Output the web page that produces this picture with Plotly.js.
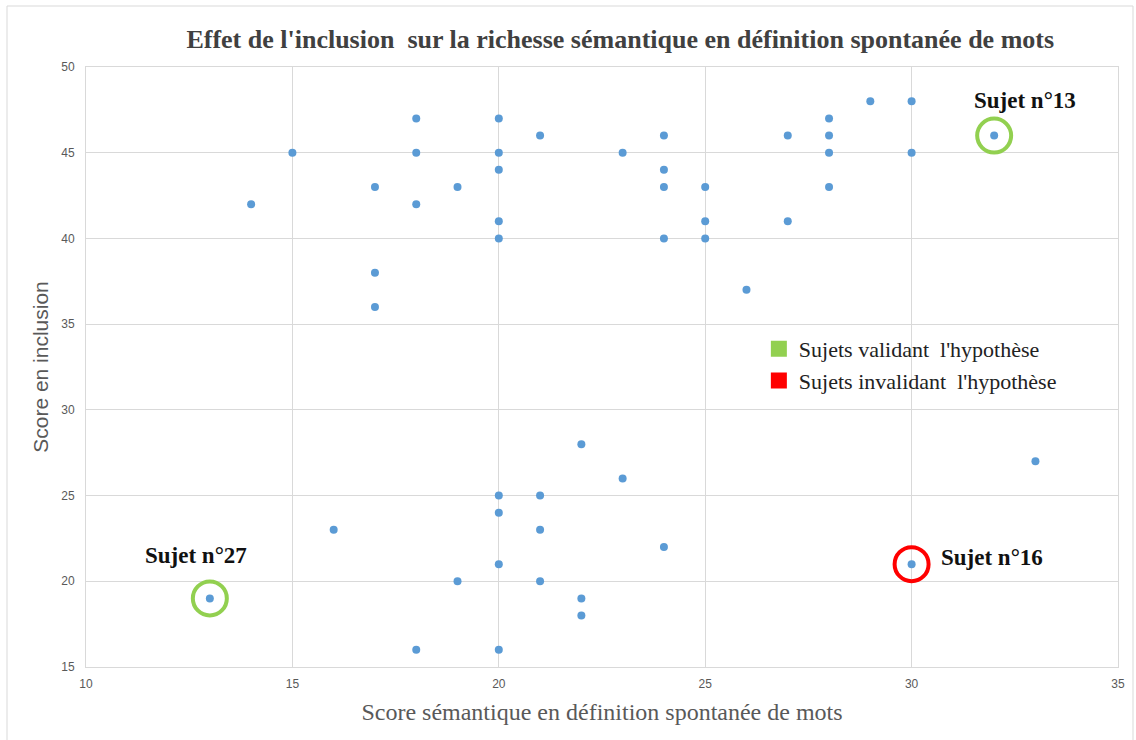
<!DOCTYPE html>
<html>
<head>
<meta charset="utf-8">
<script src="https://cdn.plot.ly/plotly-3.0.1.min.js"></script>
<style>html,body{margin:0;padding:0;background:#fff;}#chart{width:1136px;height:740px;}</style>
</head>
<body>
<div id="chart"></div>
<script>
// Data
const semanticScore = [14,15,17,17,17,18,18,18,19,20,20,20,20,20,21,23,24,24,24,24,25,25,25,26,27,27,28,28,28,28,29,30,30,32,
                       33,22,23,20,21,20,16,21,24,20,19,21,22,22,13,30,18,20];
const inclusionScore = [42,45,43,38,36,47,45,42,43,47,45,44,41,40,46,45,46,44,43,40,43,41,40,37,46,41,47,46,45,43,48,48,45,46,
                        27,28,26,25,25,24,23,23,22,21,20,20,19,18,19,21,16,16];
// highlighted subjects
const highlightLabels = ["Sujet n°13","Sujet n°27","Sujet n°16"];
const highlightX = [32,13,30];
const highlightY = [46,19,21];
const highlightValid = [true,true,false];
const legendLabels = ["Sujets validant  l'hypothèse","Sujets invalidant  l'hypothèse"];
const legendColors = ["#92d050","#ff0000"];

const xTicks = [10,15,20,25,30,35];
const yTicks = [15,20,25,30,35,40,45,50];

const traces = [
  {
    x: semanticScore, y: inclusionScore, type: 'scatter', mode: 'markers',
    marker: {color: '#5b9bd5', size: 8}, showlegend: false, hoverinfo: 'x+y'
  },
  {
    x: highlightX, y: highlightY, type: 'scatter', mode: 'markers',
    marker: {symbol: 'circle-open', size: 34,
             color: highlightValid.map(v => v ? legendColors[0] : legendColors[1]),
             line: {width: 4}},
    showlegend: false, hoverinfo: 'skip'
  },
  {
    x: [null], y: [null], type: 'scatter', mode: 'markers', name: legendLabels[0],
    marker: {symbol: 'square', size: 18, color: legendColors[0]}
  },
  {
    x: [null], y: [null], type: 'scatter', mode: 'markers', name: legendLabels[1],
    marker: {symbol: 'square', size: 18, color: legendColors[1]}
  }
];

const serif = '"Liberation Serif", "Times New Roman", serif';
const tickFont = {family: '"Liberation Sans Narrow", "Arial Narrow", "Liberation Sans", sans-serif', size: 12, color: '#595959'};

const annotations = [
  {x: highlightX[0], y: highlightY[0], xref: 'x', yref: 'y', text: '<b>' + highlightLabels[0] + '</b>',
   showarrow: false, xshift: 31, yshift: 35, font: {family: serif, size: 23, color: '#111'}},
  {x: highlightX[1], y: highlightY[1], xref: 'x', yref: 'y', text: '<b>' + highlightLabels[1] + '</b>',
   showarrow: false, xshift: -14, yshift: 43, font: {family: serif, size: 23, color: '#111'}},
  {x: highlightX[2], y: highlightY[2], xref: 'x', yref: 'y', text: '<b>' + highlightLabels[2] + '</b>',
   showarrow: false, xanchor: 'left', xshift: 27, yshift: 7, font: {family: serif, size: 23, color: '#111'}}
];

const layout = {
  width: 1136, height: 740,
  margin: {l: 86, r: 18, t: 67, b: 73},
  paper_bgcolor: '#ffffff', plot_bgcolor: '#ffffff',
  title: {text: "<b>Effet de l'inclusion  sur la richesse sémantique en définition spontanée de mots</b>",
          x: 0.546, xref: 'container', xanchor: 'center', y: 0.948, yref: 'container', yanchor: 'middle',
          font: {family: serif, size: 26, color: '#404040'}},
  xaxis: {range: [10, 35], tickvals: xTicks, ticktext: xTicks.map(String),
          showgrid: true, gridcolor: '#d9d9d9', gridwidth: 1, zeroline: false,
          showline: true, linecolor: '#d9d9d9', linewidth: 1, mirror: true,
          ticks: '', tickfont: tickFont, ticklabelstandoff: 6,
          title: {text: 'Score sémantique en définition spontanée de mots', standoff: 12,
                  font: {family: serif, size: 24, color: '#595959'}}},
  yaxis: {range: [15, 50], tickvals: yTicks, ticktext: yTicks.map(String),
          showgrid: true, gridcolor: '#d9d9d9', gridwidth: 1, zeroline: false,
          showline: true, linecolor: '#d9d9d9', linewidth: 1, mirror: true,
          ticks: '', tickfont: tickFont, ticklabelstandoff: 8,
          title: {text: 'Score en inclusion', standoff: 6,
                  font: {family: '"Liberation Sans", Arial, sans-serif', size: 21, color: '#595959'}}},
  showlegend: true,
  legend: {x: 0.652, y: 0.565, xanchor: 'left', yanchor: 'top', bgcolor: 'rgba(255,255,255,0)',
           font: {family: serif, size: 22, color: '#222'}, itemwidth: 30, tracegroupgap: 0},
  annotations: annotations,
  shapes: [
    {type: 'rect', xref: 'paper', yref: 'paper', x0: -79/1032, x1: 1047/1032, y0: -80/600, y1: 661/600,
     line: {color: '#d9d9d9', width: 1}, fillcolor: 'rgba(0,0,0,0)', layer: 'below'}
  ]
};

Plotly.newPlot('chart', traces, layout, {displayModeBar: false, staticPlot: true});
</script>
</body>
</html>
